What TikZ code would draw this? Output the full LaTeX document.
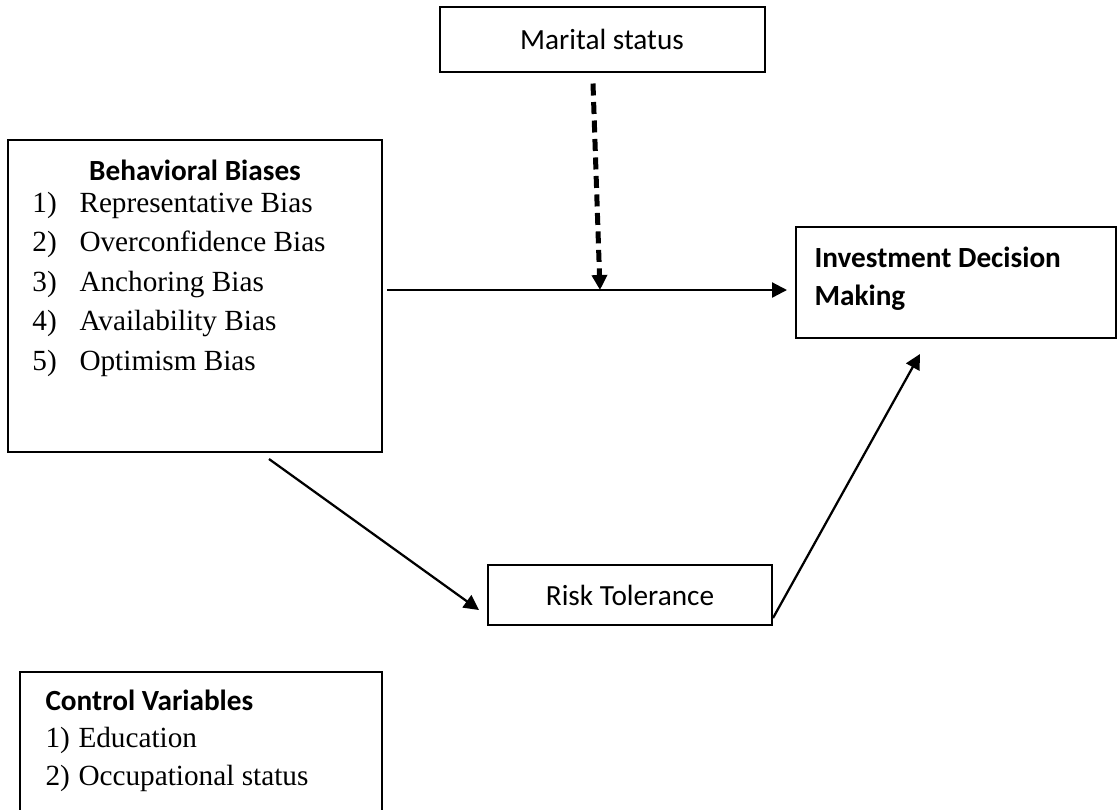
\documentclass[tikz,border=0pt]{standalone}
\usepackage{fontspec}
\setmainfont{Liberation Serif}
\newfontfamily\calibri{Carlito}
\usetikzlibrary{arrows.meta,calc}
\tikzset{>={Triangle[length=6pt,width=6pt]}}
\newcommand{\px}{0.4pt}
\tikzstyle{box} = [draw, line width=0.8pt, rectangle, inner sep=0pt]
\tikzstyle{head} = [font=\calibri\bfseries\fontsize{11.7}{14}\selectfont, inner sep=0pt]
\tikzstyle{plain} = [font=\calibri\fontsize{11.7}{14}\selectfont]
\tikzstyle{entry} = [font=\fontsize{11.7}{14}\selectfont, inner sep=0pt]
\tikzstyle{link} = [draw, ->, line width=0.9pt]
\tikzstyle{moderate} = [draw, ->, line width=2pt, dash pattern=on 4.8pt off 2.6pt]

\begin{document}
\begin{tikzpicture}[x=\px, y=-\px]
    \clip (0,0) rectangle (1118,809);
    % the boxes first
    \node [box, plain, minimum width=325*\px, minimum height=65*\px] (marital) at (602,39) {Marital status};
    \node [box, anchor=north west, minimum width=374*\px, minimum height=312*\px] (bias) at (7,139) {};
    \node [box, anchor=north west, minimum width=320*\px, minimum height=111*\px] (decision) at (795,226) {};
    \node [box, plain, minimum width=284*\px, minimum height=60*\px] (risk) at (630,595) {Risk Tolerance};
    \node [box, anchor=north west, minimum width=362*\px, minimum height=150*\px] (control) at (19,671) {};

    % texts inside the boxes
    \node [head, anchor=base] (biashead) at ($(bias.north)+(0,41)$) {Behavioral Biases};
    \foreach \t [count=\i] in {Representative Bias, Overconfidence Bias, Anchoring Bias, Availability Bias, Optimism Bias} {
        \node [entry, anchor=base west] (biasno\i) at (32,{172.5+39.5*\i}) {\i)};
        \node [entry, anchor=base west] (bias\i) at (79,{172.5+39.5*\i}) {\t};
    }
    \node [head, anchor=base west] (decision1) at ($(decision.north west)+(19,41)$) {Investment Decision};
    \node [head, anchor=base west] (decision2) at ($(decision.north west)+(19,79)$) {Making};
    \node [head, anchor=base west] (controlhead) at (45,710) {Control Variables};
    \foreach \t [count=\i] in {Education, Occupational status} {
        \node [entry, anchor=base west] (controlno\i) at (45,{710+37.5*\i}) {\i)};
        \node [entry, anchor=base west] (control\i) at (78,{710+37.5*\i}) {\t};
    }

    % then the arrows
    \coordinate (join) at (600,290);
    \draw [link] ($(bias.east |- join)+(4,0)$) -- ($(decision.west |- join)+(-8,0)$);
    \draw [moderate] ($(marital.south)+(-9,11)$) -- (join);
    \draw [link] ($(bias.south)+(74,6)$) -- ($(risk.west)+(-8,15)$);
    \draw [link] ($(risk.east)+(0,23)$) -- ($(decision.south)+(-36,15)$);
\end{tikzpicture}
\end{document}
